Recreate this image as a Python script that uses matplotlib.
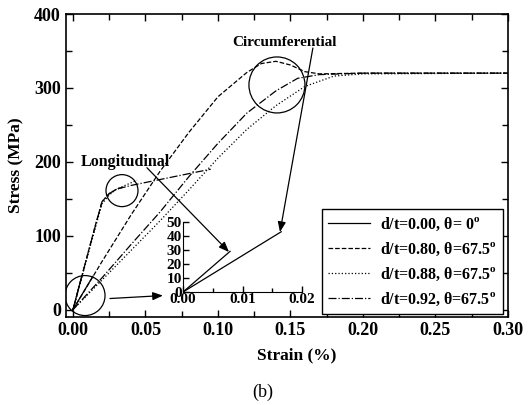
import matplotlib
matplotlib.use('Agg')
import matplotlib.pyplot as plt
from matplotlib.patches import Ellipse
from matplotlib.ticker import MultipleLocator

plt.rcParams['font.family'] = ['Liberation Serif', 'DejaVu Serif']
plt.rcParams['font.weight'] = 'bold'
plt.rcParams['font.size'] = 11
plt.rcParams['mathtext.fontset'] = 'stix'

# legend labels
labels = ['d/t=0.00, θ= 0$^\\mathregular{o}$',
          'd/t=0.80, θ=67.5$^\\mathregular{o}$',
          'd/t=0.88, θ=67.5$^\\mathregular{o}$',
          'd/t=0.92, θ=67.5$^\\mathregular{o}$']
styles = ['-', '--', ':', '-.']

# longitudinal curves (strain %, stress MPa)
longX0 = [0.0, 0.006]
longY0 = [0, 45]
longX1 = [0.0, 0.005, 0.010, 0.015, 0.020, 0.025, 0.030, 0.035]
longY1 = [0, 37, 74, 111, 146, 157, 163, 166]
longX2 = [0.0, 0.005, 0.010, 0.015, 0.020, 0.025, 0.030, 0.037, 0.044]
longY2 = [0, 36, 72, 108, 143, 155, 163, 169, 175]
longX3 = [0.0, 0.005, 0.010, 0.015, 0.020, 0.025, 0.030, 0.040, 0.060, 0.080, 0.095]
longY3 = [0, 37, 74, 110, 146, 157, 163, 168, 176, 184, 190]

# circumferential curves
circX0 = [0.0, 0.0137]
circY0 = [0, 45]
circX1 = [0.0, 0.02, 0.04, 0.06, 0.08, 0.10, 0.12, 0.13, 0.14, 0.15, 0.16, 0.17, 0.20, 0.30]
circY1 = [0, 65, 128, 187, 240, 288, 321, 333, 336, 331, 322, 319, 320, 320]
circX2 = [0.0, 0.02, 0.04, 0.06, 0.08, 0.10, 0.12, 0.14, 0.16, 0.18, 0.20, 0.30]
circY2 = [0, 40, 80, 120, 162, 205, 244, 276, 302, 316, 319, 320]
circX3 = [0.0, 0.02, 0.04, 0.06, 0.08, 0.10, 0.12, 0.14, 0.155, 0.17, 0.20, 0.30]
circY3 = [0, 43, 88, 132, 180, 225, 266, 296, 313, 318, 320, 320]

# inset (initial elastic part)
insetX1 = [0.0, 0.0079]
insetY1 = [0, 29]
insetX2 = [0.0, 0.0165]
insetY2 = [0, 43]

XMIN, XMAX = -0.005, 0.30
YMIN, YMAX = -10, 400


def setupTicks(ax):
    ax.tick_params(which='both', direction='in', top=True, right=True,
                   width=1, labelsize=13)
    ax.tick_params(which='major', length=5)
    ax.tick_params(which='minor', length=4)
    for s in ax.spines.values():
        s.set_linewidth(1.2)


def circle(ax, cx, cy, rpx):
    # radius given in pixels, converted to data units
    bb = ax.get_window_extent()
    w = 2 * rpx * (XMAX - XMIN) / bb.width
    h = 2 * rpx * (YMAX - YMIN) / bb.height
    ax.add_patch(Ellipse((cx, cy), w, h, fill=False, lw=0.9, color='k'))


fig = plt.figure(figsize=(5.29, 4.05), dpi=100)
ax = fig.add_axes([0.1243, 0.2173, 0.8357, 0.7481])

longs = [(longX0, longY0), (longX1, longY1), (longX2, longY2), (longX3, longY3)]
circs = [(circX0, circY0), (circX1, circY1), (circX2, circY2), (circX3, circY3)]
for i in range(4):
    ax.plot(circs[i][0], circs[i][1], styles[i], color='k', lw=0.9, label=labels[i])
    ax.plot(longs[i][0], longs[i][1], styles[i], color='k', lw=0.9)

ax.set_xlim(XMIN, XMAX)
ax.set_ylim(YMIN, YMAX)
ax.xaxis.set_major_locator(MultipleLocator(0.05))
ax.xaxis.set_minor_locator(MultipleLocator(0.025))
ax.yaxis.set_major_locator(MultipleLocator(100))
ax.yaxis.set_minor_locator(MultipleLocator(50))
ax.xaxis.set_major_formatter(plt.FormatStrFormatter('%.2f'))
setupTicks(ax)

ax.set_xlabel('Strain (%)', fontsize=12.5, fontweight='bold')
ax.set_ylabel('Stress (MPa)', fontsize=12.5, fontweight='bold')
ax.xaxis.set_label_coords(0.523, -0.099)
ax.yaxis.set_label_coords(-0.094, 0.5)

circle(ax, 0.0083, 19, 20)
circle(ax, 0.0338, 161, 16)
circle(ax, 0.1407, 304, 28)

ax.text(0.146, 362, 'Circumferential', ha='center', va='center', fontsize=11)
ax.text(0.0359, 200, 'Longitudinal', ha='center', va='center', fontsize=11.5)

arrow = dict(arrowstyle='-|>,head_length=0.55,head_width=0.22', color='k', lw=0.9,
             shrinkA=0, shrinkB=0)
ax.annotate('', xy=(0.1076, 78), xytext=(0.051, 192), arrowprops=arrow)
ax.annotate('', xy=(0.1428, 105), xytext=(0.1655, 354), arrowprops=arrow)
ax.annotate('', xy=(0.062, 19), xytext=(0.0255, 15), arrowprops=arrow)

leg = ax.legend(loc='lower right', bbox_to_anchor=(0.988, 0.01), borderaxespad=0,
                fancybox=False, edgecolor='k', framealpha=1, handlelength=2.6,
                handletextpad=0.6, labelspacing=0.48, borderpad=0.4, fontsize=11.5)
leg.get_frame().set_linewidth(1.0)

ins = fig.add_axes([0.346, 0.279, 0.225, 0.173])
ins.patch.set_alpha(0)
ins.plot(insetX1, insetY1, '-', color='k', lw=0.9)
ins.plot(insetX2, insetY2, '-', color='k', lw=0.9)
ins.set_xlim(0, 0.02)
ins.set_ylim(0, 50)
ins.xaxis.set_major_locator(MultipleLocator(0.01))
ins.xaxis.set_minor_locator(MultipleLocator(0.005))
ins.yaxis.set_major_locator(MultipleLocator(10))
ins.xaxis.set_major_formatter(plt.FormatStrFormatter('%.2f'))
ins.spines['top'].set_visible(False)
ins.spines['right'].set_visible(False)
ins.tick_params(which='both', direction='in', labelsize=11, pad=1, width=1)
ins.tick_params(which='major', length=4)
ins.tick_params(which='minor', length=3)

fig.text(263 / 529, 1 - 392 / 405, '(b)', ha='center', va='center',
         fontsize=13, fontweight='normal')

fig.savefig('out.png', dpi=100)
